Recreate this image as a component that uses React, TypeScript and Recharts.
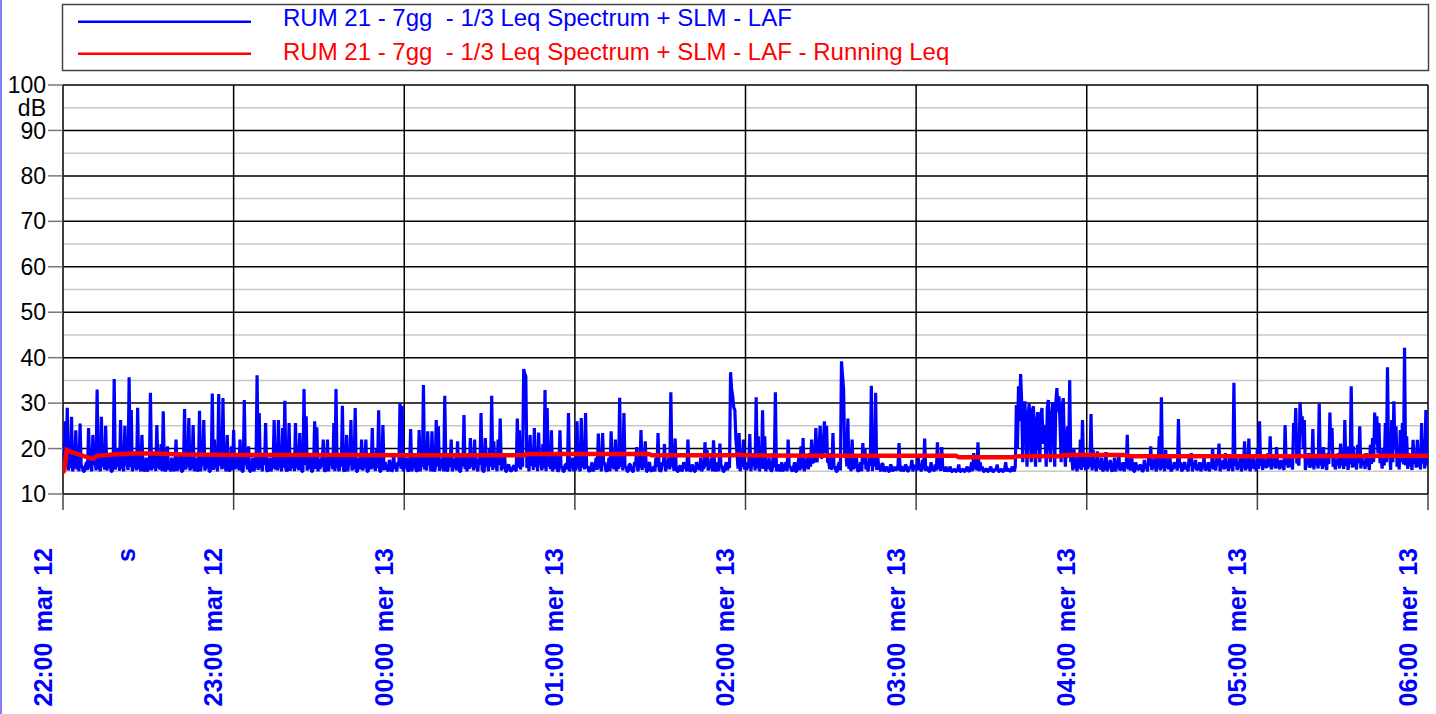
import React from 'react';
import { LineChart, Line, XAxis, YAxis, CartesianGrid } from 'recharts';

// time axis in minutes from 22:00
const hourTicks = [0, 60, 120, 180, 240, 300, 360, 420, 480];
const hourLabels = [
  '22:00 mar 12',
  '23:00 mar 12',
  '00:00 mer 13',
  '01:00 mer 13',
  '02:00 mer 13',
  '03:00 mer 13',
  '04:00 mer 13',
  '05:00 mer 13',
  '06:00 mer 13',
];
const dbTicks = [10, 20, 30, 40, 50, 60, 70, 80, 90, 100];
const dbMinor = [15, 25, 35, 45, 55, 65, 75, 85, 95];

const SAMPLE_MINUTES = 0.375;

// LAF samples, one array per hour (160 samples each)
const laf22 = [
  15, 15.5, 26, 16, 29, 15.2, 17, 15.8, 27, 15, 16, 16.5, 24, 15.4, 17, 15, 25.5, 16.2, 16, 15,
  15, 16, 17, 15.3, 24.5, 15.8, 16, 15, 23, 16.4, 18, 15.2, 33, 15.6, 16, 15, 27, 16, 17, 15.4,
  25, 15.2, 16, 16.3, 19, 15, 15, 15.8, 35.3, 15.4, 17, 16, 20, 15.1, 26.3, 15.7, 16, 15, 25, 16.2,
  17, 15.3, 35.7, 15.9, 28.5, 15, 16, 16.4, 19, 15.2, 29, 15.6, 16, 15, 23, 16.1, 15, 15.5, 18, 15,
  15.5, 16, 32.3, 15.2, 17, 15.7, 19, 15, 25.2, 16.3, 16, 15.4, 21, 15, 28.2, 15.8, 15, 16, 20.5, 15.3,
  16, 15, 18, 15.6, 15, 16.2, 22, 15.1, 16, 15.5, 19, 15, 15, 16, 28.7, 15.4, 17, 15.9, 26.7, 15.2,
  16, 15.7, 25.2, 15, 18, 16.1, 15, 15.4, 28.3, 15, 17, 16.3, 26.3, 15.2, 16, 15.8, 19, 15, 15, 16,
  32.1, 15.3, 22, 15.9, 16, 15, 32, 16.2, 18, 15.4, 31.1, 15.7, 16, 15, 23, 16, 15, 15.5, 20.5, 15.2,
];
const laf23 = [
  24.1, 15.5, 16, 16, 19, 15.2, 22, 15.8, 15, 15, 30.7, 16.5, 17, 15.4, 20.5, 15, 15, 16.2, 18, 15,
  16, 16, 36.1, 15.3, 27.8, 15.8, 16, 15, 19, 16.4, 25.6, 15.2, 15, 15.6, 18, 15, 16, 16, 26.3, 15.4,
  17, 15.2, 26.3, 16.3, 16, 15, 24.5, 15.8, 30.5, 15.4, 15, 16, 25.6, 15.1, 17, 15.7, 19, 15, 25.6, 16.2,
  16, 15.3, 23.4, 15.9, 15, 15, 33.1, 16.4, 27.1, 15.2, 16, 15.6, 19, 15, 15, 16.1, 26, 15.5, 24.7, 15,
  16, 15.5, 18, 16, 22, 15.2, 15, 15.8, 22, 15, 17, 16.5, 19, 15.4, 25.6, 15, 33.1, 16.2, 16, 15,
  19, 16, 29.4, 15.3, 15, 15.8, 23, 15, 17, 16.4, 26.3, 15.2, 16, 15.6, 28.9, 15, 15, 16, 18, 15.4,
  22, 15.2, 16, 16.3, 22, 15, 15, 15.8, 19, 15.4, 24.5, 16, 16, 15.1, 20, 15.7, 28.4, 15, 15, 16.2,
  25.2, 15.3, 17, 15.9, 15.5, 15, 17.5, 16.4, 15, 15.2, 19, 15.6, 16, 15, 17, 16.1, 30, 15.5, 29.4, 15,
];
const laf00 = [
  16, 16, 18, 15.3, 15, 15.8, 24.3, 15, 16, 16.4, 19, 15.2, 15, 15.6, 24.1, 15, 17, 16, 34, 15.4,
  16, 15.2, 23.8, 16.3, 18, 15, 23.8, 15.8, 15, 15.4, 26.3, 16, 24.9, 15.1, 16, 15.7, 18, 15, 31.6, 16.2,
  15, 15.3, 19, 15.9, 22, 15, 16, 16.4, 18, 15.2, 21.6, 15.6, 15, 15, 19, 16.1, 27.4, 15.5, 16, 15,
  19, 15.5, 22.3, 16, 17, 15.2, 22, 15.8, 16, 15, 18, 16.5, 27.8, 15.4, 15, 15, 22.3, 16.2, 17, 15,
  20, 16, 31.6, 15.3, 21.6, 15.8, 17, 15, 22, 16.4, 26.6, 15.2, 16, 15.6, 19, 15, 15, 16, 16.5, 15.4,
  15, 15.2, 16, 16.3, 15.5, 15, 26.6, 15.8, 24, 15.4, 17, 16, 37.5, 36.5, 35.9, 15.7, 18, 15, 23, 16.2,
  19, 15.3, 24.5, 15.9, 20, 15, 23.5, 16.4, 17, 15.2, 21, 15.6, 32.9, 15, 28.9, 16.1, 18, 15.5, 24, 15,
  16, 15.5, 19, 16, 15, 15.2, 24, 15.8, 16, 15, 15, 16.5, 16.5, 15.4, 27.8, 15, 16, 16.2, 18, 15,
];
const laf01 = [
  17, 15.2, 26, 16.3, 16, 15, 26.7, 15.8, 18, 15.4, 27.8, 16, 16, 15.1, 15, 15.7, 17, 15, 15.5, 16.2,
  18, 15.3, 23.3, 15.9, 16, 15, 23.4, 16.4, 17, 15.2, 15, 15.6, 18, 15, 23.8, 16.1, 16, 15.5, 22, 15,
  17, 15.5, 31.2, 16, 18, 15.2, 27.8, 15.8, 16, 15, 15, 16.5, 16.5, 15.4, 15, 15, 17, 16.2, 20.3, 15,
  16, 16, 24.1, 15.3, 17, 15.8, 21.6, 15, 15, 16.4, 17, 15.2, 15, 15.6, 16, 15, 18, 16, 23.4, 15.4,
  15, 15.2, 17, 16.3, 21, 15, 16, 15.8, 18, 15.4, 32.4, 16, 17, 15.1, 22.2, 15.7, 15, 15, 16, 16.2,
  15, 15.3, 17, 15.9, 16, 15, 22, 16.4, 15, 15.2, 16.5, 15.6, 15, 15, 17, 16.1, 15.5, 15.5, 18, 15,
  16, 15.5, 21.4, 16, 19.7, 15.2, 16, 15.8, 18, 15, 21.8, 16.5, 15, 15.4, 17, 15, 21.1, 16.2, 16, 15,
  15, 16, 17, 15.3, 16, 15.8, 36.8, 33, 31.5, 29, 28.5, 22, 19, 15.6, 23.4, 15, 17, 16, 22, 15.4,
];
const laf02 = [
  17, 15.3, 16, 15.9, 23.2, 15, 17, 16.4, 19, 15.2, 31.3, 15.6, 22.7, 15, 16, 16.1, 28.4, 15.5, 22.7, 15,
  16, 15.5, 18, 16, 15, 15.2, 19, 15.8, 32.4, 15, 16, 16.5, 15, 15.4, 17, 15, 15.5, 16.2, 17, 15,
  22, 16, 16, 15.3, 15, 15.8, 17, 15, 15, 16.4, 18, 15.2, 20.5, 15.6, 22.3, 15, 16, 16, 18, 15.4,
  19, 16, 22, 17, 17, 18, 24.5, 17, 19, 20, 25, 18, 18, 21, 26, 19, 25, 17, 17, 15.5,
  19, 15.3, 23.4, 15.9, 16, 15, 15, 16.4, 17, 15.2, 39.2, 36, 33, 18, 20, 16.1, 26.6, 15.5, 17, 15,
  22, 15.5, 16, 16, 18.3, 15.2, 15, 15.8, 17, 15, 21.2, 16.5, 20.1, 15.4, 16, 15, 18, 16.2, 33.8, 15,
  19, 16, 32.3, 15.3, 18.3, 15.8, 15.5, 15, 16.8, 16.4, 15, 15.2, 16, 15.6, 15, 15, 16.5, 16, 15, 15.4,
  16, 15.2, 15.5, 16.3, 21.2, 15, 16, 15.8, 15, 15.4, 16.5, 16, 15, 15.1, 16, 15.7, 17.5, 15, 16, 16.2,
];
const laf03 = [
  16, 15.2, 17.9, 15.6, 15.5, 15, 17.5, 15.4, 22.2, 15.1, 16, 15.5, 15, 15, 17, 15.3, 15.5, 15, 16.5, 15.2,
  21.4, 15.4, 18, 15.1, 20.3, 15.6, 15.5, 15, 16, 15.3, 15, 15.5, 16, 15, 15, 15.2, 15.5, 15, 15, 15.4,
  16.5, 15, 15, 15.3, 15.5, 15, 15, 15.6, 16, 15.1, 15, 15.4, 17, 15, 19, 15.5, 17, 15.2, 21.4, 15,
  17, 15.3, 16, 15, 15, 15.4, 15.5, 15, 15, 15.6, 16, 15.1, 15, 15, 15.5, 15.3, 16.5, 15, 15, 15.2,
  15.5, 15, 15, 15.4, 17, 15, 15.5, 15.3, 15, 15.1, 16, 15.5, 15, 16, 29.6, 20, 33.7, 26, 36.4, 30,
  17, 28, 30.4, 24, 16, 27, 29.9, 22, 17, 28.5, 29.3, 20, 16, 26, 28, 23, 17, 27.5, 28.9, 21,
  25.2, 22, 16, 29, 30.7, 21, 17, 27, 30.2, 24, 16, 30, 33.3, 28, 31.5, 25, 17, 29, 31.1, 20,
  16, 22, 24.9, 18, 35, 17, 18, 15.2, 20.1, 16.1, 16, 15, 19, 15.6, 22, 15.3, 26.3, 16, 17, 15.2,
];
const laf04 = [
  19, 15.5, 17, 16, 27.6, 15.2, 19.7, 15.8, 16, 15, 19.4, 16.5, 16, 15.4, 18, 15, 15.5, 16.2, 19.2, 15,
  16, 16, 17.5, 15.3, 15, 15.8, 18, 15, 16, 16.4, 19, 15.2, 15.5, 15.6, 17, 15, 16, 16, 23, 15.4,
  16, 15.2, 18.3, 16.3, 15, 15, 17, 15.8, 15.5, 15.4, 16.5, 16, 15, 15.1, 17.5, 15.7, 16, 15, 18, 16.2,
  20.5, 15.3, 16, 15.9, 18, 15, 16, 16.4, 22.7, 15.2, 31.3, 15.6, 17, 15, 19.7, 16.1, 16, 15.5, 18, 15,
  15.5, 15.5, 17, 16, 16, 15.2, 26.5, 15.8, 17, 15, 15.5, 16.5, 17, 15.4, 16, 15, 18, 16.2, 19, 15,
  16, 16, 17.5, 15.3, 15.5, 15.8, 17, 15, 16, 16.4, 18, 15.2, 15.5, 15.6, 17, 15, 16, 16, 20.1, 15.4,
  16, 15.2, 18, 16.3, 21.1, 15, 16, 15.8, 17.5, 15.4, 19, 16, 16, 15.1, 18, 15.7, 17, 15, 34.5, 16.2,
  18, 15.3, 16, 15.9, 18.5, 15, 16, 16.4, 21.6, 15.2, 17, 15.6, 22.2, 15, 16, 16.1, 18, 15.5, 17, 15,
];
const laf05 = [
  20.1, 15.5, 26, 16.2, 17, 15.3, 18, 16.6, 16, 15.8, 19, 16, 22.7, 15.4, 16.5, 16.8, 18, 15.6, 20.3, 16.3,
  16, 15.5, 17.5, 16.2, 16, 15.3, 25.2, 16.6, 16.8, 15.8, 18, 16, 17, 15.4, 25.6, 22, 28.9, 16.8, 17, 16.3,
  30.2, 26, 27.1, 20, 26.3, 15.3, 17, 16.6, 19, 15.8, 16.5, 16, 24.3, 15.4, 18.3, 16.8, 17, 15.6, 29.9, 16.3,
  18.3, 15.5, 20.3, 16.2, 16.5, 15.3, 19, 16.6, 27.9, 20, 24.5, 16, 18, 15.4, 17, 16.8, 19, 15.6, 21.1, 16.3,
  17, 15.5, 26.3, 16.2, 20.5, 15.3, 17.5, 16.6, 33.7, 15.8, 20.5, 16, 17, 15.4, 20.8, 16.8, 24.9, 15.6, 18, 16.3,
  17, 15.5, 19, 16.2, 17, 15.3, 20.8, 16.6, 22.3, 17, 27.9, 21, 27.1, 19, 25.6, 16.8, 18.3, 15.6, 20, 16.3,
  25.6, 17, 37.9, 18, 19, 15.3, 26.3, 17, 30.4, 20, 24.9, 16, 18, 15.4, 24.1, 17, 25.6, 16.5, 42.2, 16.3,
  22.7, 15.5, 19, 16.2, 17, 15.3, 21.9, 16.6, 17.5, 15.8, 21.9, 16, 18, 15.4, 25.6, 16.8, 18, 15.6, 28.5, 16.3,
];
const lafLast = [20.8];

// running Leq, read at these minutes
const leqMinutes = [
  0, 0.5, 1.3, 3, 6, 9.5, 10.5, 12, 17.5, 25, 32, 42, 60, 90, 120, 162, 163,
  206, 207, 236, 237, 240, 280, 314, 315, 334, 336, 351, 352, 373, 375, 420, 480,
];
const leqValues = [
  14.6, 15.5, 19.7, 19.2, 18.6, 17.9, 17.8, 18.4, 18.7, 18.9, 18.9, 18.7, 18.6, 18.6, 18.5, 18.5, 18.8,
  18.8, 18.5, 18.5, 18.7, 18.5, 18.4, 18.4, 18.1, 18.1, 18.3, 18.3, 18.6, 18.6, 18.3, 18.3, 18.4,
];

const lafValues = [...laf22, ...laf23, ...laf00, ...laf01, ...laf02, ...laf03, ...laf04, ...laf05, ...lafLast];
const lafData = lafValues.map((laf, i) => ({ t: i * SAMPLE_MINUTES, laf }));
const leqData = leqMinutes.map((t, i) => ({ t, leq: leqValues[i] }));

const FONT = '"Liberation Sans", Arial, Helvetica, sans-serif';
const BLUE = '#0000ff';
const RED = '#ff0000';

const legendItems = [
  { label: 'RUM 21 - 7gg  - 1/3 Leq Spectrum + SLM - LAF', color: BLUE },
  { label: 'RUM 21 - 7gg  - 1/3 Leq Spectrum + SLM - LAF - Running Leq', color: RED },
];

const HourTick = (props: any) => {
  const { x, y, payload } = props;
  const label = hourLabels[hourTicks.indexOf(payload.value)] ?? '';
  const bx = x - 11.5;
  const by = y + 36;
  return (
    <text
      x={bx}
      y={by}
      transform={`rotate(-90, ${bx}, ${by})`}
      textAnchor="end"
      fill={BLUE}
      fontWeight="bold"
      fontSize={25}
      fontFamily={FONT}
      style={{ wordSpacing: 3.5 }}
    >
      {label}
    </text>
  );
};

const UnitS = (props: any) => {
  const { viewBox } = props;
  const bx = viewBox.x + 72;
  const by = viewBox.y + 54;
  return (
    <text
      x={bx}
      y={by}
      transform={`rotate(-90, ${bx}, ${by})`}
      textAnchor="end"
      fill={BLUE}
      fontWeight="bold"
      fontSize={25}
      fontFamily={FONT}
    >
      s
    </text>
  );
};

const UnitDb = (props: any) => {
  const { viewBox } = props;
  return (
    <text
      x={viewBox.x + viewBox.width - 17}
      y={viewBox.y + 31}
      textAnchor="end"
      fill="#000"
      fontSize={23}
      fontFamily={FONT}
    >
      dB
    </text>
  );
};

const minorGrid = ({ offset }: any) =>
  dbMinor.map((v) => offset.top + ((100 - v) / 90) * offset.height);

const ChartLegend = () => (
  <svg width={1436} height={76} style={{ position: 'absolute', left: 0, top: 0 }}>
    <rect x={62.5} y={4.5} width={1366} height={66} fill="#fff" stroke="#444" strokeWidth={1.5} />
    {legendItems.map((item, i) => (
      <g key={item.label}>
        <line x1={78} x2={251} y1={21.7 + i * 32} y2={21.7 + i * 32} stroke={item.color} strokeWidth={2.6} />
        <text x={283} y={26 + i * 33.5} fill={item.color} fontSize={24} fontFamily={FONT} style={{ whiteSpace: 'pre' }}>
          {item.label}
        </text>
      </g>
    ))}
  </svg>
);

const App: React.FC = () => {
  return (
    <div style={{ position: 'absolute', left: 0, top: 0, width: 1436, height: 714, background: '#fff', overflow: 'hidden' }}>
      <div style={{ position: 'absolute', left: 0, top: 0 }}>
        <LineChart width={1436} height={714} margin={{ top: 85, right: 8, bottom: 0, left: 0 }}>
          <CartesianGrid vertical={false} stroke="#c8c8c8" strokeWidth={1.5} horizontalCoordinatesGenerator={minorGrid} />
          <CartesianGrid stroke="#000" strokeWidth={1.5} />
          <XAxis
            type="number"
            dataKey="t"
            domain={[0, 480]}
            ticks={hourTicks}
            interval={0}
            allowDataOverflow
            height={220}
            axisLine={false}
            tickSize={16}
            tickLine={{ stroke: '#444', strokeWidth: 1.5 }}
            tick={<HourTick />}
            label={<UnitS />}
          />
          <YAxis
            type="number"
            domain={[10, 100]}
            ticks={dbTicks}
            interval={0}
            allowDataOverflow
            width={63}
            axisLine={false}
            tickSize={15}
            tickLine={{ stroke: '#777', strokeWidth: 1.5 }}
            tick={{ fill: '#000', fontSize: 23, fontFamily: FONT }}
            label={<UnitDb />}
          />
          <Line
            data={lafData}
            dataKey="laf"
            type="linear"
            stroke={BLUE}
            strokeWidth={3.2}
            strokeLinejoin="bevel"
            dot={false}
            activeDot={false}
            isAnimationActive={false}
          />
          <Line
            data={leqData}
            dataKey="leq"
            type="linear"
            stroke={RED}
            strokeWidth={4.5}
            dot={false}
            activeDot={false}
            isAnimationActive={false}
          />
        </LineChart>
      </div>
      <ChartLegend />
      <div style={{ position: 'absolute', left: 0, top: 0, width: 2, height: 714, background: '#8080ff' }} />
    </div>
  );
};

export default App;
